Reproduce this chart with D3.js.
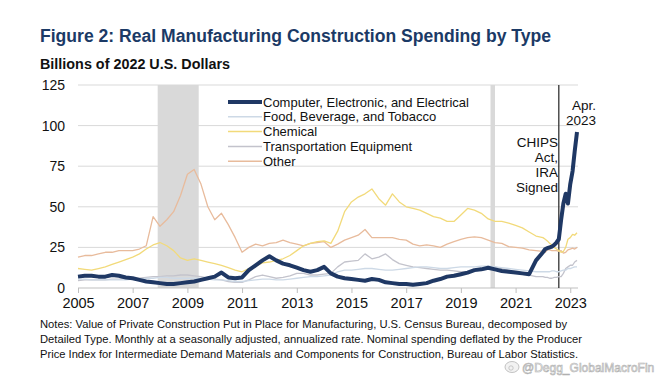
<!DOCTYPE html>
<html>
<head>
<meta charset="utf-8">
<script src="https://cdn.jsdelivr.net/npm/d3@7"></script>
<style>
  body { margin: 0; background: #fff; }
  svg text { font-family: "Liberation Sans", Arial, sans-serif; }
</style>
</head>
<body>
<svg id="chart" width="661" height="377"></svg>
<script>
'use strict';

// quarterly points 2005Q1..2021Q4, then monthly Jan 2022..Apr 2023
const quarterDates = d3.timeMonth.range(new Date(2005, 0, 1), new Date(2022, 0, 1), 3);
const monthDates = d3.timeMonth.range(new Date(2022, 0, 1), new Date(2023, 4, 1));
const dates = quarterDates.concat(monthDates);

const computer = [
  7, 7.5, 7.5, 7, 7, 8, 7.5, 6.5, 6, 5, 4, 3.5, 3, 2.5, 2.5, 3, 3.5, 4, 5, 6,
  7, 9.5, 6.5, 6, 6.5, 11, 14, 17, 19.5, 17, 15, 14, 12.5, 11, 10, 11, 13, 9, 7, 6,
  5.5, 5, 4.5, 5.5, 5, 3.5, 3, 2.5, 2.5, 2, 2.5, 3, 4.5, 5.5, 7, 7.5, 8.5, 9.5, 11, 11.5,
  12.5, 11.5, 10.5, 10, 9.5, 9, 8.5, 17,
  22, 24, 24.5, 25, 25.5, 26.5, 28, 30, 42, 52, 58, 52, 64, 72, 84, 96
];
const food = [
  5.5, 5.5, 5, 5, 5, 5, 5, 5, 5.5, 5.5, 6, 6, 6.5, 6.5, 6, 6, 6, 6, 6, 5.5,
  5, 5, 4.5, 4, 4, 4.5, 5, 5.5, 5.5, 5, 5, 5.5, 6, 6.5, 7, 7, 7.5, 8, 10, 11,
  11, 11.5, 12, 12, 11.5, 11, 11, 11.5, 12, 12.5, 13, 13, 12.5, 12, 12, 12.5, 13, 13, 13, 13.5,
  13.5, 13, 12.5, 12, 11.5, 11, 10.5, 10,
  10, 10, 10, 10, 10.5, 10.5, 10, 10, 10.5, 11, 11, 12, 12, 12.5, 13, 13
];
const chemical = [
  12, 11.5, 11, 12, 13, 14.5, 16, 17.5, 19, 21, 24, 26.5, 28, 26, 23, 18.5, 17, 18, 17, 16,
  15, 14, 12.5, 11, 10, 12, 13.5, 15.5, 16, 17, 18, 20, 23, 26, 27.5, 28.5, 29, 27.5, 35, 47,
  53, 56, 58, 61, 55, 51, 58, 53, 50, 49, 48, 46, 44, 43, 41, 41, 45, 49, 48, 46,
  42.5, 41, 41, 40, 38.5, 37, 34.5, 32,
  31, 30, 29, 27.5, 26.5, 25, 24, 23, 22, 22.5, 25, 30, 31, 33, 32.5, 34
];
const transport = [
  4.5, 5, 5, 5, 5, 5.5, 5.5, 6, 6, 6, 6.5, 7, 7, 7.5, 7.5, 8, 8, 7.5, 7, 6,
  5.5, 5, 4, 3.5, 3.5, 5, 7, 8, 7, 6, 6.5, 7.5, 9, 9, 8, 8, 8.5, 9, 13, 16,
  16.5, 17, 21, 18, 19, 21, 17.5, 15, 14, 13, 12.5, 12, 11.5, 11, 11, 10.5, 10, 10, 10.5, 11,
  12, 13, 12, 11, 10, 9, 8, 7,
  7, 6.5, 6.5, 6, 6, 6.5, 6.5, 7, 7, 9, 12, 13, 14, 14, 16, 17
];
const other = [
  19, 20, 20, 21, 22, 22, 23, 23, 23, 24, 26, 44, 38, 42, 47, 57, 70, 73, 64, 50,
  42, 46, 39, 31, 22, 25, 27, 26, 27.5, 28, 29.5, 28, 27, 26, 27.5, 28, 28.5, 25, 27, 29.5,
  31, 32.5, 36, 31, 31, 31, 31, 30, 29.5, 27, 26, 26.5, 26, 25, 27, 28.5, 30, 31, 31.5, 31,
  29.5, 28, 27.5, 25.5, 25, 24.5, 23.5, 23,
  22.5, 22, 23.5, 23.5, 23, 23, 23, 22.5, 23, 21.5, 22, 23.5, 24, 24.5, 24, 25
];

const seriesNames = ['Computer, Electronic, and Electrical', 'Food, Beverage, and Tobacco',
  'Chemical', 'Transportation Equipment', 'Other'];
const seriesValues = [computer, food, chemical, transport, other];
const seriesColors = ['#1f3864', '#cdd9e6', '#f2da7a', '#c3c3cc', '#e8bb9c'];
const seriesWidths = [4, 1.3, 1.3, 1.3, 1.3];

const yTicks = [0, 25, 50, 75, 100, 125];
const xTickYears = [2005, 2007, 2009, 2011, 2013, 2015, 2017, 2019, 2021, 2023];
const recessions = [[new Date(2007, 11, 1), new Date(2009, 5, 1)], [new Date(2020, 1, 1), new Date(2020, 3, 1)]];
const chipsDate = new Date(2022, 7, 1);

const notes = [
  'Notes: Value of Private Construction Put in Place for Manufacturing, U.S. Census Bureau, decomposed by',
  'Detailed Type. Monthly at a seasonally adjusted, annualized rate. Nominal spending deflated by the Producer',
  'Price Index for Intermediate Demand Materials and Components for Construction, Bureau of Labor Statistics.'
];

const svg = d3.select('#chart');
const plotL = 78, plotR = 578, plotT = 85, plotB = 288;

const x = d3.scaleTime().domain([new Date(2005, 0, 1), new Date(2023, 3, 1)]).range([plotL, 577]);
const y = d3.scaleLinear().domain([0, 125]).range([plotB, plotT]);

// title
svg.append('text').attr('x', 40).attr('y', 42).text('Figure 2: Real Manufacturing Construction Spending by Type')
  .attr('font-size', 18).attr('font-weight', 'bold').attr('fill', '#1b3a66')
  .attr('textLength', 511).attr('lengthAdjust', 'spacingAndGlyphs');
svg.append('text').attr('x', 40).attr('y', 69).text('Billions of 2022 U.S. Dollars')
  .attr('font-size', 14.5).attr('font-weight', 'bold').attr('fill', '#111')
  .attr('textLength', 190).attr('lengthAdjust', 'spacingAndGlyphs');

// recession shading
svg.append('g').selectAll('rect').data(recessions).enter().append('rect')
  .attr('x', d => x(d[0])).attr('width', d => x(d[1]) - x(d[0]))
  .attr('y', plotT).attr('height', plotB - plotT).attr('fill', '#d9d9d9');

// grid
svg.append('g').selectAll('line').data(yTicks.slice(1)).enter().append('line')
  .attr('x1', plotL).attr('x2', plotR).attr('y1', d => y(d)).attr('y2', d => y(d))
  .attr('stroke', '#d9d9d9').attr('stroke-width', 1);

// y labels
svg.append('g').selectAll('text').data(yTicks).enter().append('text')
  .attr('x', 65).attr('y', d => y(d) + 5).attr('text-anchor', 'end')
  .attr('font-size', 14).attr('fill', '#111').text(d => d);

// x axis
const xAxis = d3.axisBottom(x).tickValues(xTickYears.map(v => new Date(v, 0, 1)))
  .tickFormat(d3.timeFormat('%Y')).tickSize(5).tickSizeOuter(0);
const gx = svg.append('g').attr('transform', `translate(0,${plotB})`).call(xAxis);
gx.select('.domain').attr('stroke', '#bfbfbf').attr('d', `M${plotL},0H${plotR}`);
gx.selectAll('.tick line').attr('stroke', '#bfbfbf');
gx.selectAll('.tick text').attr('font-size', 14.5).attr('fill', '#111')
  .attr('font-family', '"Liberation Sans", Arial, sans-serif').attr('dy', '0.95em').attr('y', 6);

// CHIPS line
svg.append('line').attr('x1', x(chipsDate)).attr('x2', x(chipsDate)).attr('y1', plotT).attr('y2', plotB)
  .attr('stroke', '#333').attr('stroke-width', 1.3);

// series lines (computer drawn last)
const line = d3.line().x((d, i) => x(dates[i])).y(d => y(d));
const order = [4, 3, 2, 1, 0];
svg.append('g').selectAll('path').data(order).enter().append('path')
  .attr('d', i => line(seriesValues[i])).attr('fill', 'none')
  .attr('stroke', i => seriesColors[i]).attr('stroke-width', i => seriesWidths[i])
  .attr('stroke-linejoin', 'round');

// legend
const lg = svg.append('g').attr('transform', 'translate(228,102)');
seriesNames.forEach(function(name, i) {
  lg.append('line').attr('x1', 0).attr('x2', 34).attr('y1', i * 14.8).attr('y2', i * 14.8)
    .attr('stroke', seriesColors[i]).attr('stroke-width', i === 0 ? 4 : 1.5);
  lg.append('text').attr('x', 35).attr('y', i * 14.8 + 4.5).attr('font-size', 13)
    .attr('fill', '#111').text(name);
});

// annotations
svg.append('g').selectAll('text').data(['CHIPS', 'Act,', 'IRA', 'Signed']).enter().append('text')
  .attr('x', 558).attr('y', (d, i) => 147 + i * 15).attr('text-anchor', 'end')
  .attr('font-size', 13.5).attr('fill', '#111').text(d => d);
svg.append('g').selectAll('text').data(['Apr.', '2023']).enter().append('text')
  .attr('x', 596).attr('y', (d, i) => 110 + i * 15).attr('text-anchor', 'end')
  .attr('font-size', 13.5).attr('fill', '#111').text(d => d);

// notes
const noteWidths = [527, 542, 538];
svg.append('g').selectAll('text').data(notes).enter().append('text')
  .attr('x', 40).attr('y', (d, i) => 328 + i * 15).attr('font-size', 11.5).attr('fill', '#111')
  .attr('textLength', (d, i) => noteWidths[i]).attr('lengthAdjust', 'spacingAndGlyphs').text(d => d);

// watermark
const wm = svg.append('g').attr('transform', 'translate(506,367)');
wm.append('ellipse').attr('cx', 6).attr('cy', 0).attr('rx', 7).attr('ry', 5.5)
  .attr('fill', '#f2f2f2').attr('stroke', '#b5b5b5').attr('stroke-width', 0.8);
wm.append('circle').attr('cx', 5).attr('cy', 1).attr('r', 2.2).attr('fill', 'none').attr('stroke', '#b5b5b5').attr('stroke-width', 0.7);
wm.append('text').attr('x', 16).attr('y', 5).attr('font-size', 12).attr('fill', '#f4f4f4')
  .attr('stroke', '#b0b0b0').attr('stroke-width', 0.6).text('@Degg_GlobalMacroFin');
</script>
</body>
</html>
